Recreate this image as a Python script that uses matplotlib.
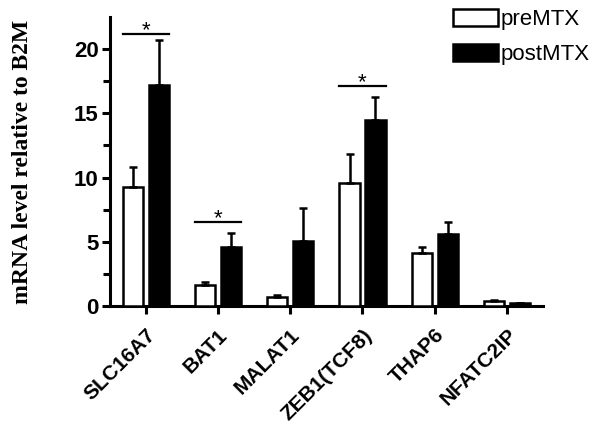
import matplotlib.pyplot as plt
import numpy as np
from matplotlib.patches import Patch

# ── Data ────────────────────────────────────────────────────────────────
genes = ['SLC16A7', 'BAT1', 'MALAT1', 'ZEB1(TCF8)', 'THAP6', 'NFATC2IP']
pre_mean = [9.25, 1.63, 0.73, 9.6, 4.15, 0.35]
pre_err = [1.55, 0.27, 0.12, 2.2, 0.45, 0.15]
post_mean = [17.2, 4.6, 5.08, 14.45, 5.6, 0.2]
post_err = [3.5, 1.05, 2.52, 1.85, 0.95, 0.05]
sig_genes = ['SLC16A7', 'BAT1', 'ZEB1(TCF8)']
sig_height = [21.2, 6.55, 17.1]

# ── Figure ──────────────────────────────────────────────────────────────
plt.rcParams['font.family'] = ['Liberation Sans', 'DejaVu Sans']
fig = plt.figure(figsize=(6, 4.32), dpi=100)
ax = fig.add_axes([0.183, 0.2917, 0.722, 0.669])

x = np.arange(len(genes))
off, w = 0.18, 0.28
ekw = dict(elinewidth=1.8, capthick=1.8, capsize=3, ecolor='black')

ax.bar(x - off, pre_mean, w, color='white', edgecolor='black', linewidth=1.8,
       yerr=[np.zeros(len(genes)), pre_err], error_kw=ekw, zorder=3)
ax.bar(x + off, post_mean, w, color='black', edgecolor='black', linewidth=1.8,
       yerr=[np.zeros(len(genes)), post_err], error_kw=ekw, zorder=3)

# significance bars
for g, h in zip(sig_genes, sig_height):
    i = genes.index(g)
    ax.plot([i - off - w / 2, i + off + w / 2], [h, h], color='black', lw=1.6)
    ax.text(i, h - 0.55, '*', ha='center', va='bottom', fontsize=16)

ax.set_xlim(-0.5, 5.5)
ax.set_ylim(0, 22.5)
ax.set_yticks([0, 5, 10, 15, 20])
ax.set_yticks([2.5, 7.5, 12.5, 17.5], minor=True)
ax.set_xticks(x)
ax.set_xticklabels(genes, rotation=45, ha='right', rotation_mode='anchor',
                   fontsize=15, fontweight='bold')
for lab in ax.get_yticklabels():
    lab.set_fontsize(16)
    lab.set_fontweight('bold')

for s in ['top', 'right']:
    ax.spines[s].set_visible(False)
for s in ['left', 'bottom']:
    ax.spines[s].set_linewidth(2.2)
ax.tick_params(axis='both', which='major', length=6, width=2.2, pad=2)
ax.tick_params(axis='x', which='major', pad=8)
ax.tick_params(axis='y', which='minor', length=5, width=2.2)

ax.set_ylabel('mRNA level relative to B2M', family='Liberation Serif',
              fontsize=17, fontweight='bold')
ax.yaxis.set_label_coords(-0.178, 0.5)

handles = [Patch(facecolor='white', edgecolor='black', linewidth=1.8,
                 label='preMTX'),
           Patch(facecolor='black', edgecolor='black', linewidth=1.8,
                 label='postMTX')]
fig.legend(handles=handles, loc='upper left', bbox_to_anchor=(0.722, 1.026),
           frameon=False, fontsize=16, handlelength=2.0, handleheight=0.8,
           handletextpad=0.15, labelspacing=0.62)

fig.savefig('out.png', dpi=100)
